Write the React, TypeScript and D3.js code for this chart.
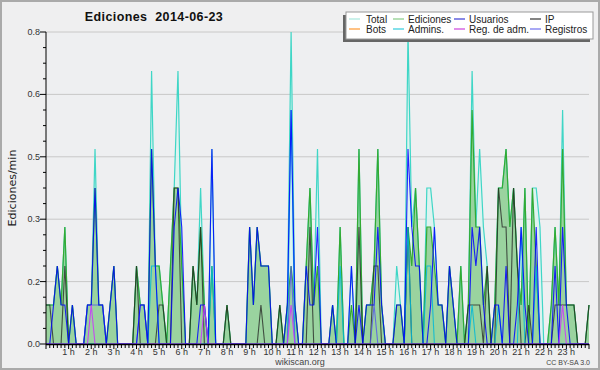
import React from 'react';
import * as d3 from 'd3';

const W = 600, H = 370;
const X0 = 46, X1 = 589, Y0 = 344, Y1 = 32;

const TITLE = 'Ediciones  2014-06-23';
const Y_LABEL = 'Ediciones/min';
const HOUR_LABELS = ['1 h','2 h','3 h','4 h','5 h','6 h','7 h','8 h','9 h','10 h','11 h','12 h','13 h','14 h','15 h','16 h','17 h','18 h','19 h','20 h','21 h','22 h','23 h'];
const Y_TICKS = [0, 0.16, 0.32, 0.48, 0.64, 0.8];
const Y_TICK_LABELS = ['0.0','0.2','0.3','0.5','0.6','0.8'];

// values per 10-minute slot (edits/min), 145 points 0h..24h
const total = [
  0.1,0.1,0.1,0.2,0.1,0.3, 0,0.1,0,0,0,0.1, 0.1,0.5,0.1,0.1,0,0.1, 0.2,0,0,0,0,0,
  0.2,0.1,0.1,0,0.7,0.2, 0.2,0.1,0,0.2,0.4,0.7, 0.2,0,0,0.2,0.1,0.4, 0.1,0,0.5,0,0,0,
  0.1,0,0,0,0,0, 0.3,0.1,0.3,0.2,0.2,0.2, 0,0,0.1,0,0.1,0.8, 0.1,0,0,0.2,0.4,0.1,
  0.5,0,0,0,0.1,0, 0.3,0,0,0.2,0,0.5, 0,0.1,0.1,0.2,0.5,0.1, 0,0,0,0.2,0.1,0,
  0.8,0.3,0.4,0.2,0,0.4, 0.4,0.3,0.1,0.1,0,0.2, 0.1,0,0.2,0,0.1,0.7, 0.3,0.5,0.3,0.2,0,0.1,
  0.4,0.4,0.5,0.3,0.4,0.2, 0.1,0.4,0,0.4,0.4,0.3, 0,0,0.1,0.3,0.1,0.6, 0.1,0.1,0.1,0,0,0,
  0.1
];
const ediciones = [
  0.1,0.1,0.1,0.2,0.1,0.3, 0,0.1,0,0,0,0.1, 0.1,0.4,0.1,0.1,0,0.1, 0.2,0,0,0,0,0,
  0.2,0.1,0.1,0,0.5,0.2, 0.2,0.1,0,0.2,0.4,0.4, 0.2,0,0,0.2,0.1,0.3, 0.1,0,0.2,0,0,0,
  0.1,0,0,0,0,0, 0.3,0.1,0.3,0.2,0.2,0.2, 0,0,0.1,0,0.1,0.2, 0.1,0,0,0.2,0.4,0.1,
  0.2,0,0,0,0.1,0, 0.3,0,0,0.1,0,0.5, 0,0.1,0.1,0.2,0.5,0.1, 0,0,0,0.1,0.1,0,
  0.3,0.2,0.4,0.2,0,0.3, 0.3,0.2,0.1,0.1,0,0.2, 0.1,0,0.2,0,0.1,0.6, 0.3,0.3,0.1,0.2,0,0.1,
  0.4,0.4,0.5,0.3,0.4,0.2, 0.1,0.4,0,0.4,0.2,0, 0,0,0.1,0.3,0.1,0.5, 0.1,0.1,0.1,0,0,0,
  0.1
];
const usuarios = [
  0,0,0.1,0.2,0.1,0.1, 0,0.1,0,0,0,0.1, 0.1,0.4,0.1,0.1,0,0.1, 0.2,0,0,0,0,0,
  0,0.1,0.1,0,0.5,0.2, 0,0,0,0,0.3,0.4, 0.3,0,0,0,0,0.1, 0.1,0,0.5,0,0,0,
  0,0,0,0,0,0, 0.3,0.1,0.3,0.2,0.2,0.2, 0,0,0,0,0.1,0.6, 0.1,0,0,0.2,0.1,0.1,
  0.3,0,0,0,0.1,0, 0,0,0,0.2,0,0.1, 0,0.1,0.1,0.1,0.3,0.1, 0,0,0,0.1,0.1,0,
  0.5,0.3,0.2,0.2,0,0, 0.1,0.3,0.1,0.1,0,0.2, 0.1,0,0,0,0,0.3, 0.2,0.3,0.1,0,0,0.1,
  0.1,0,0.2,0,0,0.1, 0.3,0.1,0,0,0.3,0, 0,0,0,0.2,0,0.3, 0.1,0,0,0,0,0,
  0
];
const ip = [
  0.1,0.1,0,0,0,0.2, 0,0,0,0,0,0, 0,0,0,0,0,0, 0,0,0,0,0,0,
  0.2,0,0,0,0,0, 0.1,0.1,0,0,0.4,0.4, 0,0,0,0.2,0.1,0.3, 0,0,0,0,0,0,
  0.1,0,0,0,0,0, 0,0,0,0.1,0,0, 0,0,0.1,0,0,0, 0,0,0,0,0.3,0,
  0,0,0,0,0,0, 0,0,0,0,0,0.3, 0,0,0,0.2,0.2,0, 0,0,0,0,0,0,
  0.3,0,0,0,0,0, 0,0,0,0,0,0, 0,0,0,0,0.1,0.1, 0.1,0.1,0,0.2,0,0,
  0.4,0.3,0.3,0,0.4,0.2, 0,0,0.1,0,0,0, 0,0,0,0.1,0.1,0.1, 0.1,0.1,0.1,0,0,0,
  0.1
];
const bots = [
  0,0,0,0,0,0, 0,0,0,0,0,0, 0,0,0,0,0,0, 0,0,0,0,0,0,
  0,0,0,0,0,0, 0,0,0,0,0,0, 0,0,0,0,0,0, 0,0,0,0,0,0,
  0,0,0,0,0,0, 0,0,0,0,0,0, 0,0,0,0,0,0, 0,0,0,0,0,0,
  0,0,0,0,0,0, 0,0,0,0,0,0, 0,0,0,0,0,0, 0,0,0,0,0,0,
  0,0,0,0,0,0, 0,0,0,0,0,0, 0,0,0,0,0,0, 0,0,0,0,0,0,
  0,0,0,0,0,0, 0,0,0,0,0,0, 0,0,0,0,0,0, 0,0,0,0,0,0,
  0
];
const admins = [
  0,0,0,0,0,0, 0,0,0,0,0,0, 0,0,0,0,0,0, 0,0,0,0,0,0,
  0,0,0,0,0.2,0.2, 0,0,0,0,0,0, 0,0,0,0,0,0, 0,0,0.2,0,0,0,
  0,0,0,0,0,0, 0,0,0,0,0,0, 0,0,0,0,0,0.6, 0,0,0,0,0,0,
  0,0,0,0,0,0, 0.2,0,0,0,0,0, 0,0,0,0,0,0, 0,0,0,0,0,0,
  0.3,0,0,0,0,0.2, 0.2,0,0,0,0,0, 0,0,0,0,0,0.1, 0,0,0,0,0,0,
  0.1,0,0,0,0,0, 0.3,0,0,0,0.2,0, 0,0,0,0,0,0, 0,0,0,0,0,0,
  0
];
const regAdm = [
  0,0,0,0,0,0, 0,0,0,0,0,0, 0.1,0,0,0,0,0, 0,0,0,0,0,0,
  0,0,0,0,0,0, 0,0,0,0,0,0, 0,0,0,0,0,0, 0.1,0,0,0,0,0,
  0,0,0,0,0,0, 0,0,0,0,0,0, 0,0,0,0,0,0.1, 0,0,0,0,0,0,
  0,0,0,0,0,0, 0,0,0,0,0,0, 0,0,0,0,0,0, 0,0,0,0,0,0,
  0,0,0,0,0,0, 0,0,0,0,0,0, 0,0,0,0,0,0, 0,0,0,0,0,0,
  0,0,0,0,0,0, 0,0,0,0,0,0, 0,0,0,0,0,0.1, 0,0,0,0,0,0,
  0
];
const registros = [
  0,0,0,0,0,0, 0,0,0,0,0,0.1, 0.1,0.1,0.1,0.1,0,0, 0,0,0,0,0,0,
  0,0.1,0.1,0,0,0, 0,0,0,0,0,0, 0,0,0,0,0,0, 0,0,0,0,0,0,
  0,0,0,0,0,0, 0,0,0,0,0,0, 0,0,0,0,0,0.2, 0,0,0,0,0,0,
  0,0,0,0,0,0, 0,0,0,0,0,0, 0,0,0,0.1,0,0, 0,0,0,0,0,0,
  0,0,0,0,0,0, 0,0,0,0,0,0, 0,0,0,0,0,0, 0,0,0,0,0,0,
  0,0,0,0,0,0, 0,0,0,0,0,0, 0,0,0,0,0,0, 0,0,0,0,0,0,
  0
];

const LEGEND = [
  { name: 'Total', color: '#a8e8de' },
  { name: 'Ediciones', color: '#88cc88' },
  { name: 'Usuarios', color: '#3b3bd6' },
  { name: 'IP', color: '#333333' },
  { name: 'Bots', color: '#ff9933' },
  { name: 'Admins.', color: '#33ccdd' },
  { name: 'Reg. de adm.', color: '#cc44dd' },
  { name: 'Registros', color: '#7070ee' },
];

export default function App() {
  const x = d3.scaleLinear().domain([0, 144]).range([X0, X1]);
  const y = d3.scaleLinear().domain([0, 0.8]).range([Y0, Y1]);
  const idx = d3.range(total.length);
  const line = (arr: number[]) => d3.line<number>().x(i => x(i)).y(i => y(arr[i]))(idx) || '';
  const area = (arr: number[]) => d3.area<number>().x(i => x(i)).y0(y(0)).y1(i => y(arr[i]))(idx) || '';
  const minorY = d3.range(0, 0.8001, 0.04);
  const minorX = d3.range(0, 145);
  const font = 'Liberation Sans, Arial, sans-serif';
  const swatchX = [349, 393, 454, 530];
  const textX = [366, 408, 469, 545];
  return (
    <svg width={W} height={H} style={{ position: 'absolute', left: 0, top: 0 }}>
      <rect x={0} y={0} width={W} height={H} fill="#efeff0" />
      <rect x={1} y={1} width={W - 2} height={H - 2} fill="none" stroke="#aaaaaa" strokeWidth={2} />
      <rect x={X0} y={Y1} width={X1 - X0} height={Y0 - Y1} fill="#eeeff1" />
      {Y_TICKS.slice(1).map((t, k) => (
        <line key={k} x1={X0} x2={X1} y1={y(t)} y2={y(t)} stroke="#c8c8c8" strokeWidth={1} />
      ))}
      <path d={area(total)} fill="#dcf3ef" fillOpacity={0.9} />
      <path d={area(ediciones)} fill="#80c680" fillOpacity={0.72} />
      <path d={line(total)} fill="none" stroke="#3fd6c6" strokeWidth={1.2} />
      <path d={line(ediciones)} fill="none" stroke="#33aa33" strokeWidth={1.2} />
      <path d={line(ip)} fill="none" stroke="#222222" strokeWidth={1.1} strokeOpacity={0.75} />
      <path d={line(bots)} fill="none" stroke="#ff9933" strokeWidth={1.1} strokeOpacity={0} />
      <path d={line(admins)} fill="none" stroke="#00b8d8" strokeWidth={1.1} strokeOpacity={0.85} />
      <path d={line(registros)} fill="none" stroke="#5555ee" strokeWidth={1.1} strokeOpacity={0.8} />
      <path d={line(usuarios)} fill="none" stroke="#0000ff" strokeWidth={1.1} strokeOpacity={0.85} />
      <path d={line(regAdm)} fill="none" stroke="#cc33ff" strokeWidth={1.1} strokeOpacity={0.85} />
      {/* axes */}
      <line x1={X0} x2={X0} y1={Y1} y2={Y0} stroke="#000" strokeWidth={1} />
      <line x1={X0} x2={X1} y1={Y0 + 0.5} y2={Y0 + 0.5} stroke="#000" strokeWidth={1.5} />
      {minorY.map((t, k) => (
        <line key={k} x1={X0 - (k % 4 === 0 ? 6 : 3)} x2={X0} y1={y(t)} y2={y(t)} stroke="#000" strokeWidth={1} />
      ))}
      {Y_TICKS.map((t, k) => (
        <text key={k} x={40} y={y(t) + 3} fontSize={9} fontFamily={font} fill="#333" textAnchor="end">{Y_TICK_LABELS[k]}</text>
      ))}
      {minorX.map(i => (
        <line key={i} x1={x(i)} x2={x(i)} y1={Y0} y2={Y0 + (i % 6 === 0 ? 5 : 4)} stroke="#000" strokeWidth={1} />
      ))}
      {HOUR_LABELS.map((l, k) => (
        <text key={k} x={x((k + 1) * 6)} y={354.5} fontSize={9} fontFamily={font} fill="#333" textAnchor="middle">{l}</text>
      ))}
      <text x={300} y={365} fontSize={9} fontFamily={font} fill="#444" textAnchor="middle">wikiscan.org</text>
      <text x={590} y={365} fontSize={7} fontFamily={font} fill="#444" textAnchor="end">CC BY-SA 3.0</text>
      <text x={154} y={21} fontSize={12.5} fontWeight="bold" fontFamily={font} fill="#111" textAnchor="middle" letterSpacing={0.4} style={{ whiteSpace: 'pre' }}>{TITLE}</text>
      <text transform={`translate(16,188) rotate(-90)`} fontSize={11} fontFamily="DejaVu Sans, sans-serif" fill="#222" textAnchor="middle">{Y_LABEL}</text>
      {/* legend */}
      <rect x={343} y={15} width={247} height={27} fill="#666" />
      <rect x={346} y={12} width={247} height={27} fill="#fff" stroke="#999" strokeWidth={1} />
      {LEGEND.map((l, k) => {
        const col = k % 4, row = Math.floor(k / 4);
        const ly = 19 + row * 10;
        return (
          <g key={k}>
            <line x1={swatchX[col]} x2={swatchX[col] + 11} y1={ly} y2={ly} stroke={l.color} strokeWidth={1.2} />
            <text x={textX[col]} y={ly + 3.5} fontSize={10} fontFamily={font} fill="#222">{l.name}</text>
          </g>
        );
      })}
    </svg>
  );
}
